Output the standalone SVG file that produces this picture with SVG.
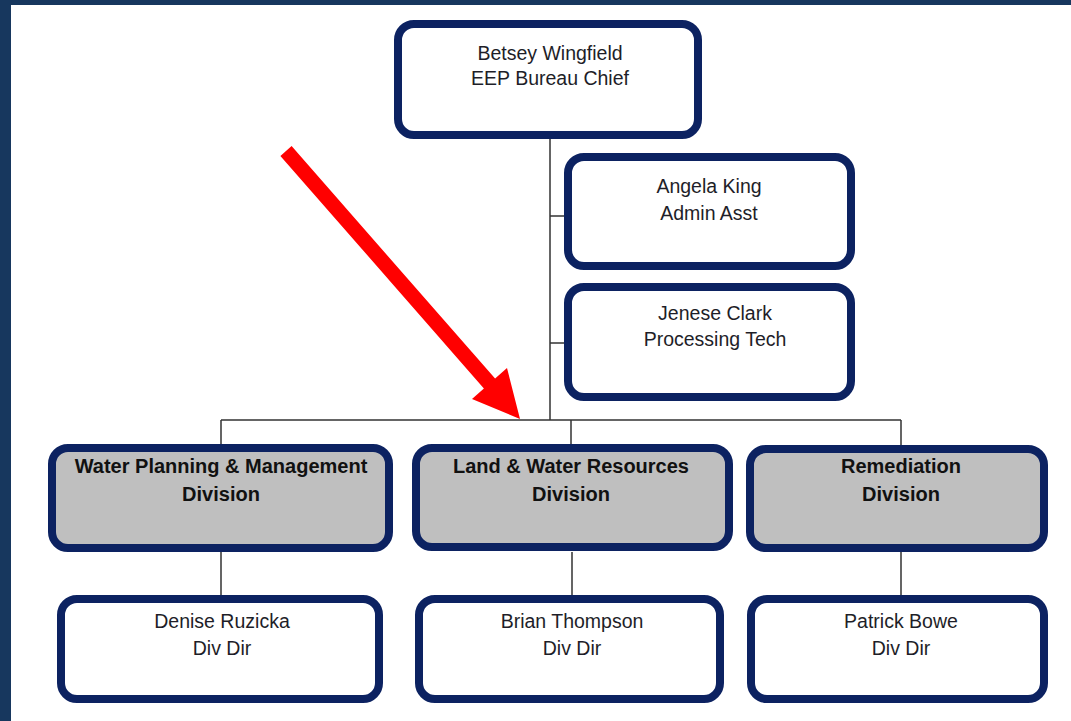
<svg xmlns="http://www.w3.org/2000/svg" width="1071" height="721" viewBox="0 0 1071 721">
<style>
.box{fill:#ffffff;stroke:#0c2261;stroke-width:8}
.div{fill:#bfbfbf;stroke:#0c2261;stroke-width:8}
.t{font-family:"Liberation Sans",Arial,sans-serif;font-size:19.5px;fill:#1e1e28;text-anchor:middle}
.b{font-family:"Liberation Sans",Arial,sans-serif;font-size:20px;font-weight:bold;fill:#111111;text-anchor:middle}
.ln{stroke:#333333;stroke-width:1.5;fill:none}
</style>
<rect x="0" y="0" width="1071" height="721" fill="#ffffff"/>
<rect x="0" y="0" width="1071" height="5" fill="#17375e"/>
<rect x="0" y="0" width="11" height="721" fill="#17375e"/>
<g id="connectors">
<path class="ln" d="M550,139 V420 M550,216 H566 M550,343 H566 M221,420 H901 M221,420 V446 M571,420 V446 M901,420 V446 M221,552 V597 M572,552 V597 M901,552 V597"/>
</g>
<g id="chief">
<rect class="box" x="398" y="24" width="300" height="111" rx="16"/>
<text class="t" x="550" y="60">Betsey Wingfield</text>
<text class="t" x="550" y="85">EEP Bureau Chief</text>
</g>
<g id="angela">
<rect class="box" x="568" y="157" width="283" height="109" rx="16"/>
<text class="t" x="709" y="193">Angela King</text>
<text class="t" x="709" y="220">Admin Asst</text>
</g>
<g id="jenese">
<rect class="box" x="568" y="287" width="283" height="110" rx="16"/>
<text class="t" x="715" y="320">Jenese Clark</text>
<text class="t" x="715" y="346">Processing Tech</text>
</g>
<g id="water-planning">
<rect class="div" x="52" y="448" width="337" height="100" rx="16"/>
<text class="b" x="221" y="473">Water Planning &amp; Management</text>
<text class="b" x="221" y="501">Division</text>
</g>
<g id="land-water">
<rect class="div" x="416" y="448" width="313" height="99" rx="16"/>
<text class="b" x="571" y="473">Land &amp; Water Resources</text>
<text class="b" x="571" y="501">Division</text>
</g>
<g id="remediation">
<rect class="div" x="750" y="449" width="294" height="99" rx="16"/>
<text class="b" x="901" y="473">Remediation</text>
<text class="b" x="901" y="501">Division</text>
</g>
<g id="denise">
<rect class="box" x="61" y="599" width="318" height="100" rx="16"/>
<text class="t" x="222" y="628">Denise Ruzicka</text>
<text class="t" x="222" y="655">Div Dir</text>
</g>
<g id="brian">
<rect class="box" x="419" y="599" width="301" height="100" rx="16"/>
<text class="t" x="572" y="628">Brian Thompson</text>
<text class="t" x="572" y="655">Div Dir</text>
</g>
<g id="patrick">
<rect class="box" x="751" y="599" width="293" height="100" rx="16"/>
<text class="t" x="901" y="628">Patrick Bowe</text>
<text class="t" x="901" y="655">Div Dir</text>
</g>
<g id="arrow">
<polygon fill="#ff0000" points="280.4,155.9 291.6,146.1 495.1,378.6 507,368 520,419 472,399 483.9,388.4"/>
</g>
</svg>
